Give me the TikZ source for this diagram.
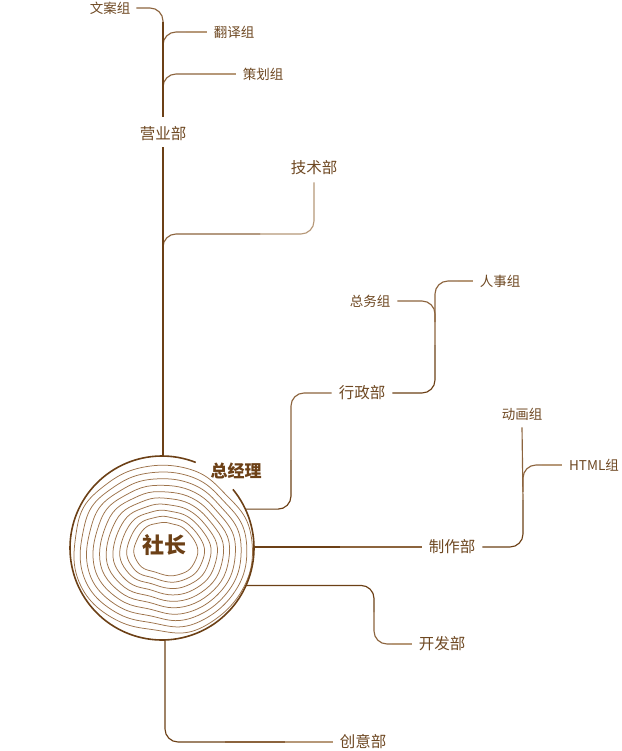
\documentclass[tikz,border=0pt]{standalone}
\usepackage{fontspec}
\setmainfont{Noto Sans CJK SC}
\usetikzlibrary{calc}
\definecolor{dk}{RGB}{108,64,22}
\definecolor{md}{RGB}{140,100,62}
\definecolor{lt}{RGB}{182,152,120}
\definecolor{txt}{RGB}{110,72,34}
\definecolor{ringc}{RGB}{156,114,74}
\tikzset{
  lbl/.style={inner sep=0pt, text=txt, font=\fontsize{15.5}{16}\selectfont},
  grp/.style={inner sep=0pt, text=txt, font=\fontsize{13.5}{14}\selectfont},
  boss/.style={inner sep=0pt, text=dk, font=\bfseries\fontsize{17}{18}\selectfont},
  chief/.style={inner sep=0pt, text=dk, font=\bfseries\fontsize{22}{24}\selectfont},
  conn/.style={line width=1.15pt, rounded corners=13pt},
  lnD/.style={conn, draw=dk},
  lnM/.style={conn, draw=md},
  lnL/.style={conn, draw=lt},
  ringline/.style={draw=ringc, line width=0.75pt},
  outerring/.style={draw=dk, line width=1.6pt},
}
\begin{document}
\begin{tikzpicture}[x=1pt,y=-1pt]
\path[use as bounding box] (0,0) rectangle (621,751);

% ---- text nodes
\node[grp] (wenan) at (110,8) {文案组};
\node[grp] (fanyi) at (234,32) {翻译组};
\node[grp] (cehua) at (263,74) {策划组};
\node[lbl] (yingye) at (163,134) {营业部};
\node[lbl] (jishu) at (314,168) {技术部};
\node[grp] (zongwu) at (370,301) {总务组};
\node[grp] (renshi) at (500,281) {人事组};
\node[lbl] (xingzheng) at (362,393) {行政部};
\node[grp] (donghua) at (522,414) {动画组};
\node[grp] (html) at (594,465) {HTML组};
\node[boss] (zjl) at (236,471) {总经理};
\node[chief] (sz) at (164,545) {社长};
\node[lbl] (zhizuo) at (452,547) {制作部};
\node[lbl] (kaifa) at (442,644) {开发部};
\node[lbl] (chuangyi) at (363,742) {创意部};

% ---- tree rings
\coordinate (C) at (162,548);
\foreach \k in {0,...,9}{
  \pgfmathsetmacro\R{28+6.4*\k}
  \pgfmathsetmacro\A{1-0.07*\k}
  \pgfmathsetmacro\W{0.45+0.06*\k}
  \pgfmathsetmacro\cx{165-0.35*\k}
  \draw[ringline, shift={(\cx,548)}] plot[smooth cycle, tension=0.6, domain=0:355, samples=72, variable=\t]
    (\t:{\R*(1+\A*(0.12*cos(2*\t)+0.18*pow(abs(cos((\t-63)/2)),20)+0.04*sin(3*\t+30))) + \W*(0.9*sin(5*\t+20+9*\k)+0.6*sin(8*\t+100+15*\k)+0.25*sin(11*\t+37*\k))});
}
\draw[outerring] plot[domain=-39.6:291.5, samples=120, smooth] ({162+92*cos(\x)},{548+92*sin(\x)});

% contact points on the trunk disc
\coordinate (cTop) at (163,457);
\coordinate (cXZ) at ($(C)+(-25:92)$);
\coordinate (cZZ) at (254,547);
\coordinate (cKF) at ($(C)+(24:92)$);
\coordinate (cCY) at (165,640);

% ---- 营业部 branch
\draw[lnM] ([xshift=6pt]wenan.east) -| (163,32);
\draw[lnM] (163,50) |- (186,32);
\draw[lnL] (186,32) -- ([xshift=-7pt]fanyi.west);
\draw[lnM] (163,92) |- (200,74);
\draw[lnL] (200,74) -- ([xshift=-7pt]cehua.west);
\draw[lnL] ([yshift=-7pt]jishu.south) |- (260,234);
\draw[lnM] (260,234) -| (163,256);
\draw[lnD] (163,22) -- ([yshift=10pt]yingye.north);
\draw[lnD] ([yshift=-6pt]yingye.south) -- (cTop);

% ---- 行政部
\draw[lnD] (cXZ) -| (291,460);
\draw[lnM] (291,460) |- ([xshift=-7pt]xingzheng.west);
\draw[lnM] ([xshift=7pt]zongwu.east) -| (435,322);
\draw[lnD] ([xshift=7pt]xingzheng.east) -| (435,345);
\draw[lnM] (435,345) |- (458,281);
\draw[lnL] (458,281) -- ([xshift=-7pt]renshi.west);

% ---- 制作部
\draw[lnD] (cZZ) -- (340,547);
\draw[lnM] (340,547) -- ([xshift=-7pt]zhizuo.west);
\draw[lnM] (523,492) |- (542,465);
\draw[lnL] (542,465) -- ([xshift=-7pt]html.west);
\draw[lnD] ([xshift=7pt]zhizuo.east) -| (523,500);
\draw[lnM] (523,500) -- ([yshift=-7pt]donghua.south);

% ---- 开发部
\draw[lnD] (cKF) -| (374,612);
\draw[lnM] (374,612) |- (392,644);
\draw[lnL] (392,644) -- ([xshift=-7pt]kaifa.west);

% ---- 创意部
\draw[lnD] (cCY) |- (225,742);
\draw[lnM] (225,742) -- (285,742);
\draw[lnL] (285,742) -- ([xshift=-7pt]chuangyi.west);
\end{tikzpicture}
\end{document}
